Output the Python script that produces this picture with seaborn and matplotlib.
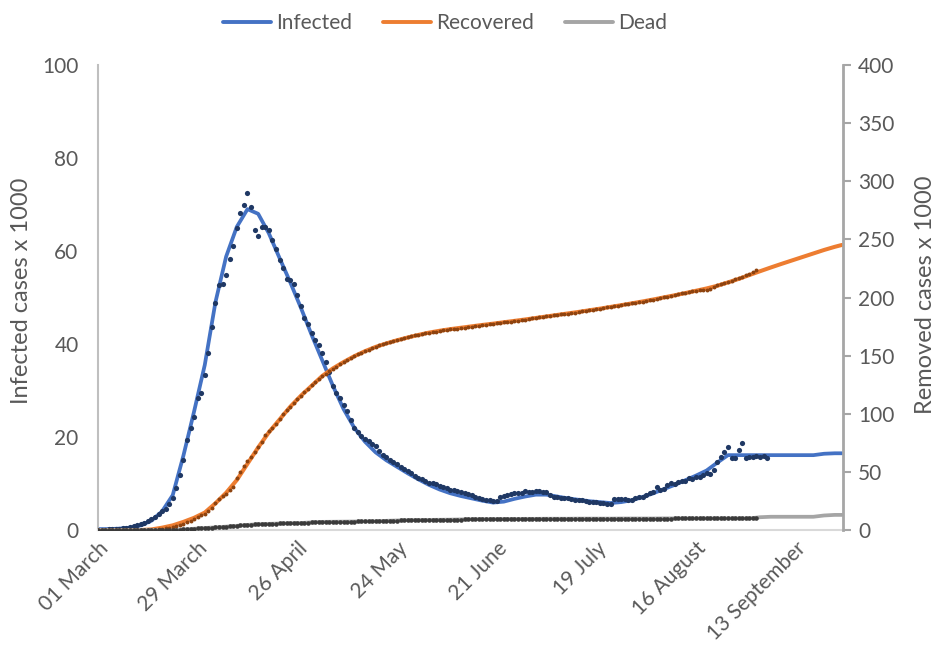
import matplotlib
matplotlib.use("Agg")
import matplotlib.pyplot as plt
import matplotlib.dates as mdates
from matplotlib.lines import Line2D
import pandas as pd
import seaborn as sns

# --- data (thousands of cases) ---
start = pd.Timestamp("2020-03-01")

# daily observations, day 0 = 01 March
infected_obs = [
    0.1, 0.1, 0.1, 0.2, 0.2, 0.3, 0.3, 0.4, 0.5, 0.6,
    0.8, 1.0, 1.2, 1.5, 2.0, 2.4, 2.9, 3.4, 4.0, 4.6,
    5.7, 6.9, 9.0, 11.8, 15.0, 19.4, 22.0, 24.3, 28.3, 29.4,
    33.3, 38.0, 43.7, 48.8, 52.7, 52.8, 54.8, 58.3, 61.0, 65.0,
    68.2, 69.9, 72.5, 69.5, 64.5, 63.2, 65.2, 65.1, 64.5, 62.4,
    60.4, 58.0, 56.4, 54.0, 53.8, 52.9, 50.5, 48.2, 45.6, 44.3,
    42.4, 40.9, 39.8, 38.0, 36.2, 34.0, 31.0, 29.5, 28.4, 26.8,
    25.5, 23.6, 22.0, 21.1, 20.3, 19.6, 19.1, 18.6, 18.0, 16.9,
    16.2, 15.6, 15.0, 14.7, 14.3, 13.6, 13.1, 12.7, 12.2, 11.7,
    11.2, 10.9, 10.5, 10.2, 10.1, 9.8, 9.5, 9.3, 9.0, 8.7,
    8.6, 8.4, 8.2, 7.9, 7.7, 7.5, 7.1, 6.9, 6.6, 6.5,
    6.4, 6.2, 6.3, 7.2, 7.3, 7.5, 7.7, 7.9, 8.0, 8.0,
    8.3, 8.1, 8.2, 8.3, 8.3, 8.2, 8.1, 7.6, 7.2, 7.0,
    6.9, 6.8, 6.8, 6.6, 6.5, 6.4, 6.4, 6.3, 6.1, 6.1,
    6.0, 5.9, 5.8, 5.7, 5.6, 6.6, 6.7, 6.6, 6.7, 6.5,
    6.5, 6.8, 7.0, 7.2, 7.6, 7.9, 8.2, 9.3, 8.6, 8.8,
    9.6, 10.1, 9.8, 10.4, 10.6, 10.5, 11.1, 11.0, 11.3, 11.5,
    11.8, 12.2, 12.0, 12.9, 14.7, 15.8, 16.8, 17.9, 15.4, 15.4,
    17.2, 18.8, 15.4, 15.6, 15.8, 15.9, 15.8, 16.0, 15.4,
]

recovered_obs = [
    0, 0, 0, 0, 0, 0, 0, 0, 0, 0,
    0, 0, 0, 0, 0.1, 0.2, 0.4, 0.7, 1.0, 1.5,
    2.0, 2.7, 3.5, 4.5, 5.5, 6.5, 8.0, 9.5, 11.0, 12.5,
    14.0, 16.0, 19.0, 23.0, 27.0, 29.0, 31.0, 34.0, 37.0, 45.0,
    50.0, 55.0, 59.0, 63.0, 67.0, 71.0, 76.0, 82.0, 85.0, 88.0,
    91.5, 95.5, 99.5, 103.0, 106.0, 109.5, 112.5, 115.5, 119.0, 121.5,
    124.5, 127.5, 130.0, 132.5, 134.5, 136.5, 138.5, 140.5, 142.5, 144.5,
    146.0, 147.8, 149.5, 151.0, 152.5, 154.0, 155.2, 156.5, 157.7, 158.8,
    160.0, 161.0, 162.0, 162.8, 163.6, 164.4, 165.2, 166.0, 166.7, 167.4,
    168.0, 168.6, 169.2, 169.7, 170.2, 170.7, 171.2, 171.7, 172.1, 172.5,
    172.9, 173.3, 173.7, 174.1, 174.5, 174.9, 175.3, 175.7, 176.1, 176.5,
    176.9, 177.3, 177.7, 178.1, 178.5, 178.9, 179.3, 179.7, 180.1, 180.5,
    181.0, 181.5, 182.0, 182.5, 183.0, 183.4, 183.8, 184.2, 184.6, 185.0,
    185.4, 185.8, 186.2, 186.6, 187.0, 187.5, 188.0, 188.5, 189.0, 189.5,
    190.0, 190.5, 191.0, 191.5, 192.0, 192.5, 193.0, 193.5, 194.0, 194.5,
    195.0, 195.5, 196.0, 196.5, 197.0, 197.5, 198.0, 198.7, 199.4, 200.1,
    200.8, 201.5, 202.2, 202.9, 203.6, 204.3, 205.0, 205.5, 206.0, 206.3,
    206.5, 206.8, 207.5, 209.0, 210.5, 211.5, 212.5, 213.5, 214.5, 215.5,
    216.5, 217.7, 219.0, 220.5, 222.0, 224.0,
]

dead_obs = [
    0, 0, 0, 0, 0, 0, 0, 0, 0, 0,
    0, 0, 0, 0, 0, 0, 0, 0, 0, 0,
    0.1, 0.2, 0.3, 0.4, 0.5, 0.7, 0.9, 1.1, 1.3, 1.5,
    1.7, 1.9, 2.1, 2.3, 2.5, 2.7, 2.9, 3.1, 3.3, 3.6,
    3.9, 4.2, 4.4, 4.6, 4.8, 5.0, 5.1, 5.2, 5.3, 5.4,
    5.5, 5.6, 5.7, 5.7, 5.8, 5.8, 5.9, 6.0, 6.2, 6.4,
    6.6, 6.8, 6.9, 7.0, 7.0, 7.1, 7.1, 7.2, 7.2, 7.2,
    7.3, 7.3, 7.3, 7.4, 7.4, 7.4, 7.5, 7.5, 7.5, 7.6,
    7.7, 7.8, 7.9, 8.0, 8.1, 8.2, 8.3, 8.4, 8.5, 8.5,
    8.6, 8.6, 8.7, 8.7, 8.7, 8.8, 8.8, 8.8, 8.9, 8.9,
    8.9, 9.0, 9.0, 9.2, 9.2, 9.3, 9.3, 9.3, 9.4, 9.4,
    9.4, 9.4, 9.5, 9.5, 9.5, 9.5, 9.5, 9.6, 9.6, 9.6,
    9.6, 9.6, 9.6, 9.6, 9.6, 9.7, 9.7, 9.7, 9.7, 9.7,
    9.7, 9.7, 9.7, 9.7, 9.7, 9.8, 9.8, 9.8, 9.8, 9.8,
    9.8, 9.8, 9.8, 9.8, 9.8, 9.8, 9.8, 9.8, 9.9, 9.9,
    9.9, 9.9, 9.9, 9.9, 9.9, 9.9, 9.9, 9.9, 9.9, 9.9,
    9.9, 9.9, 10.0, 10.0, 10.0, 10.0, 10.0, 10.0, 10.0, 10.0,
    10.0, 10.0, 10.0, 10.0, 10.0, 10.0, 10.0, 10.0, 10.0, 10.0,
    10.0, 10.0, 10.0, 10.0, 10.0, 10.0,
]

# fitted model, every third day plus the last day
model_day = list(range(0, 208, 3)) + [209]

infected_fit = [
    0.2, 0.2, 0.3, 0.5, 1.0, 2.0, 4.0, 7.5, 16.0, 25.5,
    35.5, 49.0, 58.8, 65.2, 69.0, 68.0, 63.8, 58.5, 53.3, 47.8,
    42.0, 36.5, 31.0, 26.0, 22.0, 19.0, 16.7, 15.0, 13.6, 12.2,
    10.9, 9.7, 8.7, 7.9, 7.3, 6.8, 6.3, 5.9, 6.1, 6.7,
    7.2, 7.6, 7.6, 7.2, 6.8, 6.5, 6.2, 6.0, 5.8, 6.0,
    6.4, 7.1, 7.9, 8.8, 9.7, 10.7, 11.7, 12.8, 14.5, 16.1,
    16.1, 16.1, 16.1, 16.1, 16.1, 16.1, 16.1, 16.1, 16.4, 16.5,
    16.5,
]

recovered_fit = [
    0, 0, 0, 0, 0, 0.5, 2, 4, 7, 10.5,
    15, 23, 32, 43, 57, 71, 84, 95, 106, 115.5,
    124, 132.5, 139, 144.5, 149.5, 153.8, 157.5, 160.5, 163.2, 165.6,
    167.8, 169.8, 171.4, 172.8, 174.0, 175.2, 176.4, 177.5, 178.7, 179.9,
    181.1, 182.4, 183.7, 185.0, 186.3, 187.6, 189.0, 190.4, 191.9, 193.4,
    195.0, 196.6, 198.3, 200.1, 201.9, 203.8, 205.8, 207.8, 210.1, 213.0,
    216.0, 219.3, 222.6, 225.8, 228.9, 231.9, 234.9, 237.9, 240.9, 243.6,
    245.2,
]

dead_fit = [
    0, 0, 0, 0, 0, 0, 0, 0.2, 0.5, 1.1,
    1.7, 2.3, 2.9, 3.6, 4.4, 5.0, 5.3, 5.6, 5.8, 6.0,
    6.6, 7.0, 7.1, 7.2, 7.3, 7.4, 7.5, 7.9, 8.2, 8.5,
    8.6, 8.7, 8.8, 8.9, 9.1, 9.3, 9.4, 9.4, 9.5, 9.5,
    9.6, 9.6, 9.7, 9.7, 9.7, 9.8, 9.8, 9.8, 9.8, 9.9,
    9.9, 9.9, 9.9, 10.0, 10.0, 10.0, 10.0, 10.0, 10.0, 10.0,
    10.0, 10.0, 11.0, 11.4, 11.4, 11.4, 11.4, 11.4, 12.5, 13.0,
    13.0,
]

tick_dates = pd.date_range(start, periods=8, freq="28D")

BLUE = "#4472C4"
ORANGE = "#ED7D31"
GREY = "#A5A5A5"
TEXT = "#595959"

inf_df = pd.DataFrame({"date": start + pd.to_timedelta(range(len(infected_obs)), unit="D"),
                       "value": infected_obs})
rec_df = pd.DataFrame({"date": start + pd.to_timedelta(range(len(recovered_obs)), unit="D"),
                       "value": recovered_obs})
dead_df = pd.DataFrame({"date": start + pd.to_timedelta(range(len(dead_obs)), unit="D"),
                        "value": dead_obs})
fit_df = pd.DataFrame({"date": start + pd.to_timedelta(model_day, unit="D"),
                       "infected": infected_fit,
                       "recovered": recovered_fit,
                       "dead": dead_fit})

sns.set_theme(style="white")
plt.rcParams["font.family"] = ["Lato", "DejaVu Sans"]

fig = plt.figure(figsize=(9.36, 6.5), dpi=100)
ax = fig.add_axes([0.1047, 0.1846, 0.7959, 0.7154])
ax2 = ax.twinx()

# left axis: infected
sns.lineplot(data=fit_df, x="date", y="infected", ax=ax, color=BLUE, linewidth=2.7, legend=False)
sns.scatterplot(data=inf_df, x="date", y="value", ax=ax, color="#1F3864", s=14,
                linewidth=0, zorder=3, legend=False)

# right axis: recovered and dead
sns.lineplot(data=fit_df, x="date", y="recovered", ax=ax2, color=ORANGE, linewidth=2.9, legend=False)
sns.lineplot(data=fit_df, x="date", y="dead", ax=ax2, color=GREY, linewidth=2.7, legend=False)
sns.scatterplot(data=rec_df, x="date", y="value", ax=ax2, color="#8E430F", s=8,
                linewidth=0, zorder=3, legend=False)
sns.scatterplot(data=dead_df, x="date", y="value", ax=ax2, color="#3A3A3A", s=11,
                linewidth=0, zorder=3, legend=False)

ax.set_xlim(start, start + pd.Timedelta(days=209.3))
ax.set_ylim(0, 100)
ax2.set_ylim(0, 400)
ax.set_yticks(range(0, 101, 20))
ax2.set_yticks(range(0, 401, 50))

ax.set_xticks(tick_dates)
ax.xaxis.set_major_formatter(mdates.DateFormatter("%d %B"))
for lab in ax.get_xticklabels():
    lab.set_rotation(45)
    lab.set_ha("right")
    lab.set_rotation_mode("anchor")

ax.tick_params(axis="x", direction="in", length=5, width=1, color="#D9D9D9",
               labelsize=15, labelcolor=TEXT, pad=6)
ax.tick_params(axis="y", length=0, labelsize=15, labelcolor=TEXT, pad=14)
ax2.tick_params(axis="y", direction="out", length=6, width=1.5, color="#A6A6A6",
                labelsize=15, labelcolor=TEXT, pad=5)

ax.set_xlabel("")
ax.set_ylabel("Infected cases x 1000", fontsize=17, color=TEXT)
ax2.set_ylabel("Removed cases x 1000", fontsize=17, color=TEXT)
ax.yaxis.set_label_coords(-0.0886, 0.514)
ax2.yaxis.set_label_coords(1.097, 0.505)

for a in (ax, ax2):
    a.spines["top"].set_visible(False)
    a.grid(False)
ax.spines["right"].set_visible(False)
ax.spines["left"].set_color("#BFBFBF")
ax.spines["left"].set_linewidth(1.5)
ax.spines["bottom"].set_color("#D9D9D9")
ax.spines["bottom"].set_linewidth(1.5)
ax2.spines["left"].set_visible(False)
ax2.spines["bottom"].set_visible(False)
ax2.spines["right"].set_color("#A6A6A6")
ax2.spines["right"].set_linewidth(2)

handles = [Line2D([], [], color=c, linewidth=2.8) for c in (BLUE, ORANGE, GREY)]
fig.legend(handles, ["Infected", "Recovered", "Dead"], loc="center",
           bbox_to_anchor=(0.4754, 0.9646), ncol=3, frameon=False, fontsize=15,
           handlelength=2.3, handletextpad=0.25, columnspacing=1.5, labelcolor=TEXT)

fig.savefig("out.png", dpi=100)
